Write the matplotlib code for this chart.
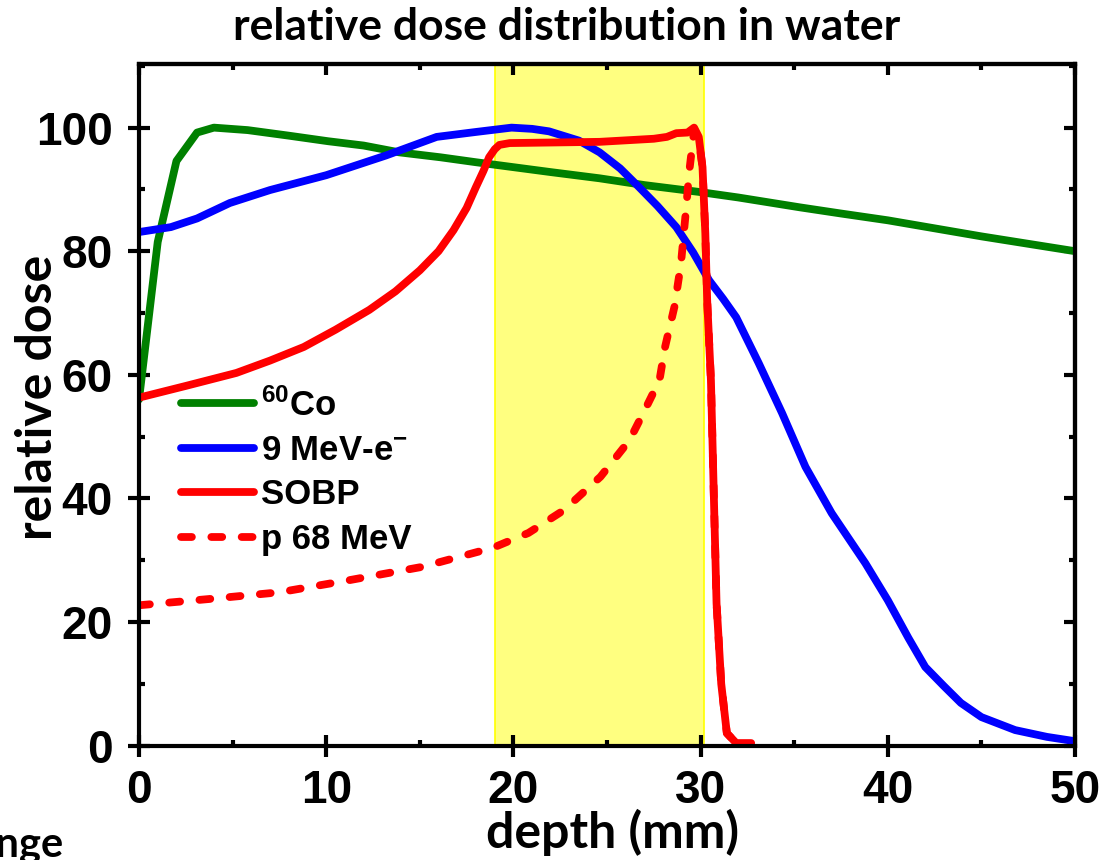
import matplotlib
matplotlib.use("Agg")
import matplotlib.pyplot as plt
from matplotlib.ticker import MultipleLocator

# depth (mm) / relative dose values
co_depth = [0, 1.0, 2.0, 3.1, 4.0, 5.8, 8.0, 10.1, 12.0, 13.9, 16.1, 18.0, 20.0,
            22.0, 24.6, 27.0, 29.9, 32.0, 35.3, 37.5, 40.0, 42.5, 45.0, 47.5, 50.0]
co_dose = [56.0, 81.5, 94.6, 99.2, 100.0, 99.6, 98.7, 97.8, 97.1, 96.0, 95.2, 94.4, 93.6,
           92.8, 91.8, 90.7, 89.6, 88.7, 87.1, 86.1, 85.0, 83.7, 82.4, 81.2, 80.0]

e_depth = [0, 1.7, 3.1, 4.85, 7.0, 10.0, 13.2, 15.9, 18.0, 19.9, 21.0, 21.9, 23.5, 24.6,
           25.7, 26.7, 27.7, 28.7, 29.6, 30.45, 31.2, 31.9, 33.1, 34.35, 35.6, 37.0,
           38.8, 40.0, 41.1, 42.0, 43.0, 43.9, 45.0, 46.8, 48.5, 50.0]
e_dose = [83.1, 83.9, 85.3, 87.8, 89.9, 92.3, 95.5, 98.5, 99.3, 100.0, 99.8, 99.4, 97.9,
          96.0, 93.4, 90.4, 87.3, 83.9, 79.8, 75.3, 72.3, 69.3, 61.9, 53.8, 45.1, 37.6,
          29.5, 23.5, 17.4, 12.7, 9.6, 6.9, 4.6, 2.5, 1.4, 0.7]

sobp_depth = [0, 2.5, 5.2, 7.0, 8.8, 10.5, 12.3, 13.7, 15.0, 16.0, 16.8, 17.5, 18.0, 18.4,
              18.7, 19.0, 19.25, 19.8, 24.6, 27.5, 28.2, 28.7, 29.3, 29.65, 29.9, 30.1,
              30.25, 30.35, 30.55, 30.85, 31.1, 31.4, 31.9, 32.7]
sobp_dose = [56.3, 58.2, 60.3, 62.3, 64.5, 67.3, 70.5, 73.5, 76.9, 80.0, 83.4, 87.0, 90.4,
             93.0, 95.2, 96.5, 97.2, 97.5, 97.7, 98.2, 98.5, 99.1, 99.2, 100.0, 98.5,
             93.6, 82.9, 72.0, 59.1, 23.0, 10.0, 2.0, 0.4, 0.4]

p68_depth = [0, 3.7, 7.5, 11.3, 15.1, 18.9, 20.8, 22.7, 24.65, 26.2, 27.1, 27.8, 28.1,
             28.6, 28.95, 29.2, 29.4, 29.65, 29.9, 30.1, 30.25, 30.35, 30.55, 30.85,
             31.1, 31.4, 31.9]
p68_dose = [22.7, 23.7, 24.8, 26.8, 28.9, 32.0, 34.4, 38.1, 43.5, 49.4, 54.8, 59.1, 64.5,
            71.0, 78.0, 86.1, 93.1, 99.6, 98.0, 93.6, 82.9, 72.0, 59.1, 23.0,
            10.0, 2.0, 0.4]

sobp_region = (19.0, 30.2)

plt.rcParams["mathtext.fontset"] = "custom"
plt.rcParams["mathtext.rm"] = "Liberation Sans:bold"
plt.rcParams["mathtext.it"] = "Liberation Sans:bold"
plt.rcParams["mathtext.bf"] = "Liberation Sans:bold"
plt.rcParams["mathtext.default"] = "rm"

fig = plt.figure(figsize=(11.05, 8.6), dpi=100)
ax = fig.add_axes([0.1258, 0.1331, 0.8471, 0.7925])

ax.axvspan(*sobp_region, facecolor="#ffff80", edgecolor="#ffff00", lw=1.2, zorder=0)

lw = 5.6
ax.plot(co_depth, co_dose, color="#008000", lw=lw, solid_capstyle="round",
        label="$^{60}$Co", zorder=2)
ax.plot(e_depth, e_dose, color="#0000ff", lw=lw, solid_capstyle="round",
        label="9 MeV-e$^{-}$", zorder=3)
ax.plot(sobp_depth, sobp_dose, color="#ff0000", lw=lw, solid_capstyle="round",
        label="SOBP", zorder=5)
ax.plot(p68_depth, p68_dose, color="#ff0000", lw=lw, dashes=(1.4, 2.5),
        dash_capstyle="round", label="p 68 MeV", zorder=4)

ax.set_xlim(0, 50)
ax.set_ylim(0, 110.3)
ax.xaxis.set_major_locator(MultipleLocator(10))
ax.xaxis.set_minor_locator(MultipleLocator(5))
ax.yaxis.set_major_locator(MultipleLocator(20))
ax.yaxis.set_minor_locator(MultipleLocator(10))

for sp in ax.spines.values():
    sp.set_linewidth(3)
    sp.set_zorder(6)

ax.tick_params(which="major", direction="inout", length=16, width=3, pad=9,
               top=False, right=False)
ax.tick_params(which="minor", direction="in", length=4.5, width=3,
               top=False, right=False)
ax.tick_params(axis="y", which="major", pad=11)
for lab in ax.get_xticklabels() + ax.get_yticklabels():
    lab.set_fontfamily("Liberation Sans")
    lab.set_fontweight("bold")
    lab.set_fontsize(33)

top = ax.secondary_xaxis("top")
top.xaxis.set_major_locator(MultipleLocator(10))
top.xaxis.set_minor_locator(MultipleLocator(5))
top.tick_params(which="major", direction="in", length=8, width=3, labeltop=False)
top.tick_params(which="minor", direction="in", length=4.5, width=3)
top.spines["top"].set_linewidth(3)

right = ax.secondary_yaxis("right")
right.yaxis.set_major_locator(MultipleLocator(20))
right.yaxis.set_minor_locator(MultipleLocator(10))
right.tick_params(which="major", direction="in", length=8, width=3, labelright=False)
right.tick_params(which="minor", direction="in", length=4.5, width=3)
right.spines["right"].set_linewidth(3)

# axis labels placed as figure texts to match the reference positions
fig.text(0.554, 0.014, "depth (mm)", fontfamily="Lato", fontweight="bold",
         fontsize=36, ha="center", va="baseline")
fig.text(0.034, 0.538, "relative dose", fontfamily="Lato", fontweight="bold",
         fontsize=36, rotation=90, ha="center", va="center")

fig.text(0.513, 0.9535, "relative dose distribution in water", fontfamily="Lato",
         fontweight="bold", fontsize=32, ha="center", va="baseline")
fig.text(0.058, 0.004, "range", fontfamily="Lato", fontweight="bold", fontsize=30,
         ha="right", va="baseline")

leg = ax.legend(loc="upper left", bbox_to_anchor=(0.03, 0.545), frameon=False,
                prop={"family": "Liberation Sans", "weight": "bold", "size": 25},
                handlelength=2.1, handletextpad=0.2, labelspacing=0.33,
                borderaxespad=0)

fig.savefig("out.png", dpi=100)
